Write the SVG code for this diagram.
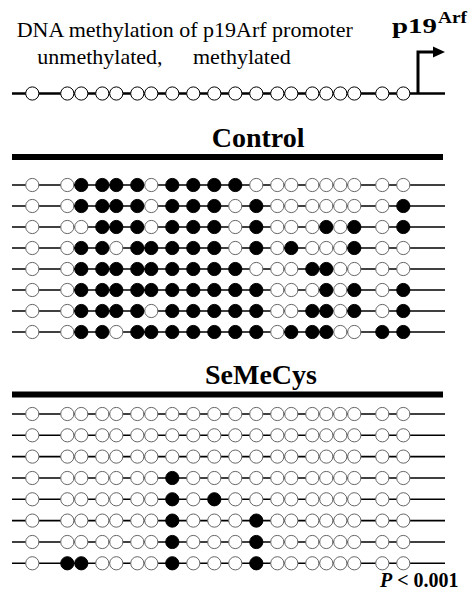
<svg xmlns="http://www.w3.org/2000/svg" xmlns:xlink="http://www.w3.org/1999/xlink" width="469" height="591" viewBox="0 0 469 591">
<style>
.t{font-family:"Liberation Serif","Times New Roman",serif;fill:#000}
.b{font-weight:bold}
.ln{stroke:#000;stroke-width:1.6}
.bar{fill:#000}
</style>
<defs>
<circle id="o" r="6.6" fill="#fff" stroke="#666" stroke-width="1"/>
<circle id="f" r="6.6" fill="#000" stroke="#000" stroke-width="1"/>
<circle id="t" r="6.6" fill="#fff" stroke="#000" stroke-width="1"/>
</defs>
<rect width="469" height="591" fill="#fff"/>
<g id="legend">
<text class="t" x="16.7" y="37" font-size="22">DNA methylation of p19Arf promoter</text>
<text class="t" x="37.3" y="64" font-size="22">unmethylated,</text>
<text class="t" x="193" y="64" font-size="22">methylated</text>
</g>
<g id="gene-label">
<text class="t b" x="392" y="33" font-size="21" textLength="45" lengthAdjust="spacingAndGlyphs">p19</text>
<text class="t b" x="438" y="23" font-size="16" textLength="29" lengthAdjust="spacingAndGlyphs">Arf</text>
</g>
<g id="connectors">
<path d="M418 93.5V52H434" fill="none" stroke="#000" stroke-width="3"/>
<polygon points="433,46.5 445,52 433,57.5" fill="#000"/>
</g>
<g id="promoter" transform="translate(0,93.5)">
<line x1="12" x2="445" stroke="#000" stroke-width="2.6"/>
<use href="#t" x="32.3"/><use href="#t" x="67.3"/><use href="#t" x="81.3"/><use href="#t" x="102.3"/><use href="#t" x="116.3"/><use href="#t" x="137.3"/><use href="#t" x="151.3"/><use href="#t" x="172.3"/><use href="#t" x="193.3"/><use href="#t" x="214.3"/><use href="#t" x="235.3"/><use href="#t" x="256.3"/><use href="#t" x="277.3"/><use href="#t" x="291.3"/><use href="#t" x="312.3"/><use href="#t" x="326.3"/><use href="#t" x="340.3"/><use href="#t" x="354.3"/><use href="#t" x="382.3"/><use href="#t" x="403.3"/>
</g>
<g id="control-header">
<text class="t b" x="211.7" y="147" font-size="28">Control</text>
<rect class="bar" x="12" y="154" width="431" height="6"/>
</g>
<g id="control-1" transform="translate(0,185)"><line class="ln" x1="12" x2="445"/>
<use href="#o" x="32.3"/><use href="#o" x="67.3"/><use href="#f" x="81.3"/><use href="#f" x="102.3"/><use href="#f" x="116.3"/><use href="#f" x="137.3"/><use href="#o" x="151.3"/><use href="#f" x="172.3"/><use href="#f" x="193.3"/><use href="#f" x="214.3"/><use href="#f" x="235.3"/><use href="#o" x="256.3"/><use href="#o" x="277.3"/><use href="#o" x="291.3"/><use href="#o" x="312.3"/><use href="#o" x="326.3"/><use href="#o" x="340.3"/><use href="#o" x="354.3"/><use href="#o" x="382.3"/><use href="#o" x="403.3"/></g>
<g id="control-2" transform="translate(0,206)"><line class="ln" x1="12" x2="445"/>
<use href="#o" x="32.3"/><use href="#o" x="67.3"/><use href="#f" x="81.3"/><use href="#f" x="102.3"/><use href="#f" x="116.3"/><use href="#f" x="137.3"/><use href="#o" x="151.3"/><use href="#f" x="172.3"/><use href="#f" x="193.3"/><use href="#f" x="214.3"/><use href="#o" x="235.3"/><use href="#f" x="256.3"/><use href="#o" x="277.3"/><use href="#o" x="291.3"/><use href="#o" x="312.3"/><use href="#o" x="326.3"/><use href="#o" x="340.3"/><use href="#o" x="354.3"/><use href="#o" x="382.3"/><use href="#f" x="403.3"/></g>
<g id="control-3" transform="translate(0,227)"><line class="ln" x1="12" x2="445"/>
<use href="#o" x="32.3"/><use href="#o" x="67.3"/><use href="#o" x="81.3"/><use href="#f" x="102.3"/><use href="#f" x="116.3"/><use href="#f" x="137.3"/><use href="#o" x="151.3"/><use href="#f" x="172.3"/><use href="#f" x="193.3"/><use href="#f" x="214.3"/><use href="#o" x="235.3"/><use href="#f" x="256.3"/><use href="#o" x="277.3"/><use href="#o" x="291.3"/><use href="#o" x="312.3"/><use href="#f" x="326.3"/><use href="#o" x="340.3"/><use href="#f" x="354.3"/><use href="#o" x="382.3"/><use href="#f" x="403.3"/></g>
<g id="control-4" transform="translate(0,248)"><line class="ln" x1="12" x2="445"/>
<use href="#o" x="32.3"/><use href="#o" x="67.3"/><use href="#f" x="81.3"/><use href="#f" x="102.3"/><use href="#o" x="116.3"/><use href="#f" x="137.3"/><use href="#f" x="151.3"/><use href="#f" x="172.3"/><use href="#f" x="193.3"/><use href="#f" x="214.3"/><use href="#o" x="235.3"/><use href="#f" x="256.3"/><use href="#o" x="277.3"/><use href="#f" x="291.3"/><use href="#o" x="312.3"/><use href="#o" x="326.3"/><use href="#o" x="340.3"/><use href="#f" x="354.3"/><use href="#o" x="382.3"/><use href="#o" x="403.3"/></g>
<g id="control-5" transform="translate(0,269)"><line class="ln" x1="12" x2="445"/>
<use href="#o" x="32.3"/><use href="#o" x="67.3"/><use href="#f" x="81.3"/><use href="#f" x="102.3"/><use href="#f" x="116.3"/><use href="#f" x="137.3"/><use href="#f" x="151.3"/><use href="#f" x="172.3"/><use href="#f" x="193.3"/><use href="#f" x="214.3"/><use href="#f" x="235.3"/><use href="#o" x="256.3"/><use href="#o" x="277.3"/><use href="#o" x="291.3"/><use href="#f" x="312.3"/><use href="#f" x="326.3"/><use href="#o" x="340.3"/><use href="#o" x="354.3"/><use href="#o" x="382.3"/><use href="#o" x="403.3"/></g>
<g id="control-6" transform="translate(0,290)"><line class="ln" x1="12" x2="445"/>
<use href="#o" x="32.3"/><use href="#o" x="67.3"/><use href="#f" x="81.3"/><use href="#f" x="102.3"/><use href="#f" x="116.3"/><use href="#f" x="137.3"/><use href="#f" x="151.3"/><use href="#f" x="172.3"/><use href="#f" x="193.3"/><use href="#f" x="214.3"/><use href="#f" x="235.3"/><use href="#f" x="256.3"/><use href="#o" x="277.3"/><use href="#o" x="291.3"/><use href="#o" x="312.3"/><use href="#f" x="326.3"/><use href="#o" x="340.3"/><use href="#f" x="354.3"/><use href="#o" x="382.3"/><use href="#f" x="403.3"/></g>
<g id="control-7" transform="translate(0,311)"><line class="ln" x1="12" x2="445"/>
<use href="#o" x="32.3"/><use href="#o" x="67.3"/><use href="#f" x="81.3"/><use href="#f" x="102.3"/><use href="#f" x="116.3"/><use href="#f" x="137.3"/><use href="#o" x="151.3"/><use href="#f" x="172.3"/><use href="#f" x="193.3"/><use href="#f" x="214.3"/><use href="#f" x="235.3"/><use href="#f" x="256.3"/><use href="#o" x="277.3"/><use href="#o" x="291.3"/><use href="#f" x="312.3"/><use href="#f" x="326.3"/><use href="#o" x="340.3"/><use href="#f" x="354.3"/><use href="#o" x="382.3"/><use href="#f" x="403.3"/></g>
<g id="control-8" transform="translate(0,332)"><line class="ln" x1="12" x2="445"/>
<use href="#o" x="32.3"/><use href="#o" x="67.3"/><use href="#f" x="81.3"/><use href="#f" x="102.3"/><use href="#o" x="116.3"/><use href="#f" x="137.3"/><use href="#f" x="151.3"/><use href="#f" x="172.3"/><use href="#f" x="193.3"/><use href="#f" x="214.3"/><use href="#f" x="235.3"/><use href="#f" x="256.3"/><use href="#o" x="277.3"/><use href="#f" x="291.3"/><use href="#f" x="312.3"/><use href="#f" x="326.3"/><use href="#o" x="340.3"/><use href="#o" x="354.3"/><use href="#f" x="382.3"/><use href="#f" x="403.3"/></g>
<g id="semecys-header">
<text class="t b" x="205" y="384" font-size="28">SeMeCys</text>
<rect class="bar" x="12" y="391.5" width="431" height="6"/>
</g>
<g id="semecys-1" transform="translate(0,414)"><line class="ln" x1="12" x2="445"/>
<use href="#o" x="32.3"/><use href="#o" x="67.3"/><use href="#o" x="81.3"/><use href="#o" x="102.3"/><use href="#o" x="116.3"/><use href="#o" x="137.3"/><use href="#o" x="151.3"/><use href="#o" x="172.3"/><use href="#o" x="193.3"/><use href="#o" x="214.3"/><use href="#o" x="235.3"/><use href="#o" x="256.3"/><use href="#o" x="277.3"/><use href="#o" x="291.3"/><use href="#o" x="312.3"/><use href="#o" x="326.3"/><use href="#o" x="340.3"/><use href="#o" x="354.3"/><use href="#o" x="382.3"/><use href="#o" x="403.3"/></g>
<g id="semecys-2" transform="translate(0,435.3)"><line class="ln" x1="12" x2="445"/>
<use href="#o" x="32.3"/><use href="#o" x="67.3"/><use href="#o" x="81.3"/><use href="#o" x="102.3"/><use href="#o" x="116.3"/><use href="#o" x="137.3"/><use href="#o" x="151.3"/><use href="#o" x="172.3"/><use href="#o" x="193.3"/><use href="#o" x="214.3"/><use href="#o" x="235.3"/><use href="#o" x="256.3"/><use href="#o" x="277.3"/><use href="#o" x="291.3"/><use href="#o" x="312.3"/><use href="#o" x="326.3"/><use href="#o" x="340.3"/><use href="#o" x="354.3"/><use href="#o" x="382.3"/><use href="#o" x="403.3"/></g>
<g id="semecys-3" transform="translate(0,456.6)"><line class="ln" x1="12" x2="445"/>
<use href="#o" x="32.3"/><use href="#o" x="67.3"/><use href="#o" x="81.3"/><use href="#o" x="102.3"/><use href="#o" x="116.3"/><use href="#o" x="137.3"/><use href="#o" x="151.3"/><use href="#o" x="172.3"/><use href="#o" x="193.3"/><use href="#o" x="214.3"/><use href="#o" x="235.3"/><use href="#o" x="256.3"/><use href="#o" x="277.3"/><use href="#o" x="291.3"/><use href="#o" x="312.3"/><use href="#o" x="326.3"/><use href="#o" x="340.3"/><use href="#o" x="354.3"/><use href="#o" x="382.3"/><use href="#o" x="403.3"/></g>
<g id="semecys-4" transform="translate(0,478)"><line class="ln" x1="12" x2="445"/>
<use href="#o" x="32.3"/><use href="#o" x="67.3"/><use href="#o" x="81.3"/><use href="#o" x="102.3"/><use href="#o" x="116.3"/><use href="#o" x="137.3"/><use href="#o" x="151.3"/><use href="#f" x="172.3"/><use href="#o" x="193.3"/><use href="#o" x="214.3"/><use href="#o" x="235.3"/><use href="#o" x="256.3"/><use href="#o" x="277.3"/><use href="#o" x="291.3"/><use href="#o" x="312.3"/><use href="#o" x="326.3"/><use href="#o" x="340.3"/><use href="#o" x="354.3"/><use href="#o" x="382.3"/><use href="#o" x="403.3"/></g>
<g id="semecys-5" transform="translate(0,499.3)"><line class="ln" x1="12" x2="445"/>
<use href="#o" x="32.3"/><use href="#o" x="67.3"/><use href="#o" x="81.3"/><use href="#o" x="102.3"/><use href="#o" x="116.3"/><use href="#o" x="137.3"/><use href="#o" x="151.3"/><use href="#f" x="172.3"/><use href="#o" x="193.3"/><use href="#f" x="214.3"/><use href="#o" x="235.3"/><use href="#o" x="256.3"/><use href="#o" x="277.3"/><use href="#o" x="291.3"/><use href="#o" x="312.3"/><use href="#o" x="326.3"/><use href="#o" x="340.3"/><use href="#o" x="354.3"/><use href="#o" x="382.3"/><use href="#o" x="403.3"/></g>
<g id="semecys-6" transform="translate(0,520.6)"><line class="ln" x1="12" x2="445"/>
<use href="#o" x="32.3"/><use href="#o" x="67.3"/><use href="#o" x="81.3"/><use href="#o" x="102.3"/><use href="#o" x="116.3"/><use href="#o" x="137.3"/><use href="#o" x="151.3"/><use href="#f" x="172.3"/><use href="#o" x="193.3"/><use href="#o" x="214.3"/><use href="#o" x="235.3"/><use href="#f" x="256.3"/><use href="#o" x="277.3"/><use href="#o" x="291.3"/><use href="#o" x="312.3"/><use href="#o" x="326.3"/><use href="#o" x="340.3"/><use href="#o" x="354.3"/><use href="#o" x="382.3"/><use href="#o" x="403.3"/></g>
<g id="semecys-7" transform="translate(0,542)"><line class="ln" x1="12" x2="445"/>
<use href="#o" x="32.3"/><use href="#o" x="67.3"/><use href="#o" x="81.3"/><use href="#o" x="102.3"/><use href="#o" x="116.3"/><use href="#o" x="137.3"/><use href="#o" x="151.3"/><use href="#f" x="172.3"/><use href="#o" x="193.3"/><use href="#o" x="214.3"/><use href="#o" x="235.3"/><use href="#f" x="256.3"/><use href="#o" x="277.3"/><use href="#o" x="291.3"/><use href="#o" x="312.3"/><use href="#o" x="326.3"/><use href="#o" x="340.3"/><use href="#o" x="354.3"/><use href="#o" x="382.3"/><use href="#o" x="403.3"/></g>
<g id="semecys-8" transform="translate(0,563.3)"><line class="ln" x1="12" x2="445"/>
<use href="#o" x="32.3"/><use href="#f" x="67.3"/><use href="#f" x="81.3"/><use href="#o" x="102.3"/><use href="#o" x="116.3"/><use href="#o" x="137.3"/><use href="#o" x="151.3"/><use href="#f" x="172.3"/><use href="#o" x="193.3"/><use href="#o" x="214.3"/><use href="#o" x="235.3"/><use href="#f" x="256.3"/><use href="#o" x="277.3"/><use href="#o" x="291.3"/><use href="#o" x="312.3"/><use href="#o" x="326.3"/><use href="#o" x="340.3"/><use href="#o" x="354.3"/><use href="#o" x="382.3"/><use href="#o" x="403.3"/></g>
<g id="pvalue">
<text class="t b" x="380" y="587" font-size="20"><tspan font-style="italic">P</tspan> &lt; 0.001</text>
</g>
</svg>
